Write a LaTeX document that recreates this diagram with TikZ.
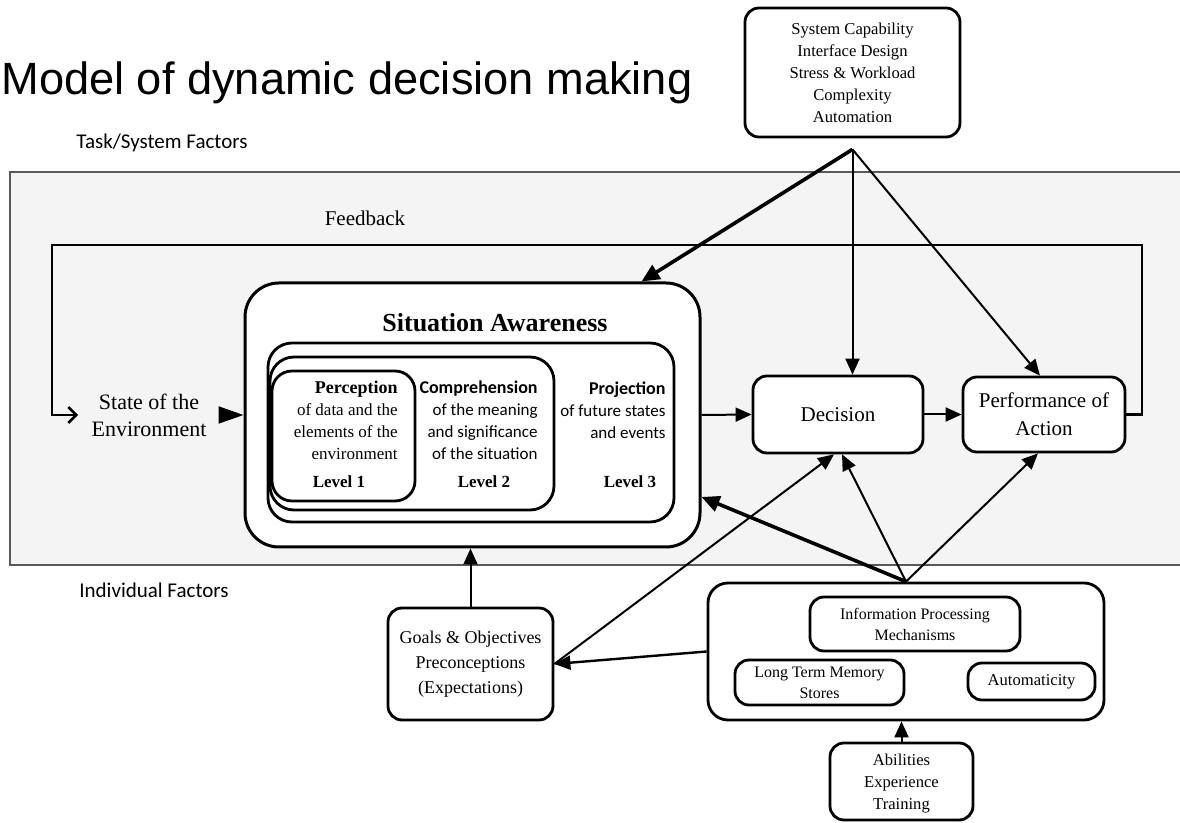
\documentclass[tikz,border=0pt]{standalone}
\usepackage{fontspec}
\setmainfont{Liberation Serif}
\newfontfamily\titlefont{Liberation Sans}
\newfontfamily\calfont{Carlito}
\usetikzlibrary{arrows.meta,fit}

\begin{document}
\begin{tikzpicture}[x=0.5pt,y=-0.5pt,
  box/.style={draw, line width=1.4pt, rounded corners=7pt, fill=white, inner sep=0pt},
  sabox/.style={draw, line width=1.5pt, rounded corners=17pt, fill=white, inner sep=0pt},
  lvlbox/.style={draw, line width=1.4pt, rounded corners=12pt, fill=white, inner sep=0pt},
  txt/.style={inner sep=0pt, align=center},
  arr/.style={line width=1pt, -{Triangle[length=8pt,width=7pt]}},
  arrthick/.style={line width=1.8pt, -{Triangle[length=9pt,width=8pt]}},
  fbline/.style={line width=1.3pt, -{Straight Barb[length=4pt,width=8pt]}},
  small/.style={font=\fontsize{8.3}{11}\selectfont},
]
\useasboundingbox (0,0) rectangle (1180,823);
\clip (0,0) rectangle (1180,823);

% grey band holding the loop
\fill[gray!9] (10,172) rectangle (1190,565);
\draw[gray!70!black, line width=0.8pt] (1190,172) -- (10,172) -- (10,565) -- (1190,565);

% heading and side labels
\node[anchor=base west, inner sep=0pt, font=\titlefont\fontsize{22.6}{27}\selectfont] (title) at (1,95) {Model of dynamic decision making};
\node[txt, font=\calfont\fontsize{10.5}{12}\selectfont] (tsf) at (162,143) {Task/System Factors};
\node[txt, font=\calfont\fontsize{10.5}{12}\selectfont] (indf) at (154,590) {Individual Factors};
\node[txt, font=\fontsize{10.5}{12}\selectfont] (fb) at (365,218) {Feedback};

% task / system factors
\node[box, fit={(745,8) (960,137)}] (sys) {};
\node[txt, small] (sysT) at (sys.center) {System Capability\\Interface Design\\Stress \& Workload\\Complexity\\Automation};

% state of the environment
\node[txt, font=\fontsize{11}{13.5}\selectfont] (env) at (149,415) {State of the\\Environment};

% situation awareness block
\node[sabox, fit={(245,283) (700,547)}] (sa) {};
\node[txt, font=\bfseries\fontsize{13}{15}\selectfont] (satitle) at (495,323) {Situation Awareness};
\node[lvlbox, fit={(268,343) (674,522)}] (l3) {};
\node[lvlbox, fit={(270,357) (554,510)}] (l2) {};
\node[lvlbox, rounded corners=10pt, fit={(272,371) (415,501)}] (l1) {};

\node[inner sep=0pt, align=right, anchor=east, font=\fontsize{8.5}{11}\selectfont] (perc) at (398,420)
  {{\fontsize{9}{11}\selectfont\bfseries Perception}\\of data and the\\elements of the\\environment};
\node[txt, font=\bfseries\fontsize{8.5}{10}\selectfont] (lv1) at (339,482) {Level 1};
\node[inner sep=0pt, align=right, anchor=east, font=\calfont\fontsize{8.5}{11}\selectfont] (comp) at (538,420)
  {{\fontsize{9}{11}\selectfont\bfseries Comprehension}\\of the meaning\\and significance\\of the situation};
\node[txt, font=\bfseries\fontsize{8.5}{10}\selectfont] (lv2) at (484,482) {Level 2};
\node[inner sep=0pt, align=right, anchor=east, font=\calfont\fontsize{8.5}{11}\selectfont] (proj) at (666,410)
  {{\fontsize{9}{11}\selectfont\bfseries Projection}\\of future states\\and events};
\node[txt, font=\bfseries\fontsize{8.5}{10}\selectfont] (lv3) at (630,482) {Level 3};

% decision and action
\node[box, fit={(753,376) (923,453)}] (dec) {};
\node[txt, font=\fontsize{10.5}{14}\selectfont] (decT) at (dec.center) {Decision};
\node[box, fit={(963,377) (1125,452)}] (perf) {};
\node[txt, font=\fontsize{10.5}{14}\selectfont] (perfT) at (perf.center) {Performance of\\Action};

% individual factors
\node[box, fit={(388,608) (553,720)}] (goals) {};
\node[txt, font=\fontsize{9}{12.5}\selectfont] (goalsT) at (goals.center) {Goals \& Objectives\\Preconceptions\\(Expectations)};
\node[box, rounded corners=10pt, fit={(708,583) (1104,720)}] (ind) {};
\node[box, fit={(810,597) (1020,651)}] (ipm) {};
\node[txt, font=\fontsize{8}{10.5}\selectfont] (ipmT) at (ipm.center) {Information Processing\\Mechanisms};
\node[box, fit={(735,660) (904,705)}] (ltm) {};
\node[txt, font=\fontsize{8}{10.5}\selectfont] (ltmT) at (ltm.center) {Long Term Memory\\Stores};
\node[box, fit={(968,663) (1095,700)}] (auto) {};
\node[txt, font=\fontsize{8.3}{10.5}\selectfont] (autoT) at (auto.center) {Automaticity};
\node[box, fit={(830,743) (973,820)}] (abil) {};
\node[txt, small] (abilT) at ([yshift=-1pt]abil.center) {Abilities\\Experience\\Training};

% connectors from task / system factors
\coordinate (tsrc) at ([yshift=-5.5pt]sys.south);
\draw[arrthick] (tsrc) -- ([xshift=-30pt]sa.north east);
\draw[arr] (tsrc) -- (tsrc |- dec.north);
\draw[arr] (tsrc) -- ([xshift=-2pt]perf.north);

% main flow
\draw[line width=1pt, -{Triangle[length=12.5pt,width=8.5pt]}] ([xshift=-12.5pt]sa.west) -- (sa.west);
\draw[arr] (sa.east) -- (dec.west);
\draw[arr] (dec.east) -- (perf.west);

% feedback loop
\coordinate (fbR) at (1142,245);
\coordinate (fbL) at (52,245);
\draw[fbline] (perf.east) -| (fbR) -- (fbL) |- ([xshift=-6.5pt]env.west);

% connectors from individual factors
\draw[arrthick] (ind.north) -- ([yshift=-41pt]sa.east);
\draw[arr] (ind.north) -- ([xshift=2pt]dec.south);
\draw[arr] (ind.north) -- ([xshift=-3pt]perf.south);
\draw[arr, line width=1.2pt] (ind.west) -- (goals.east);
\draw[arr] (goals.east) -- ([xshift=-2pt]dec.south);
\draw[arr] (goals.north) -- (goals.north |- sa.south);
\draw[arr] (abil.north) -- (abil.north |- ind.south);
\end{tikzpicture}
\end{document}
